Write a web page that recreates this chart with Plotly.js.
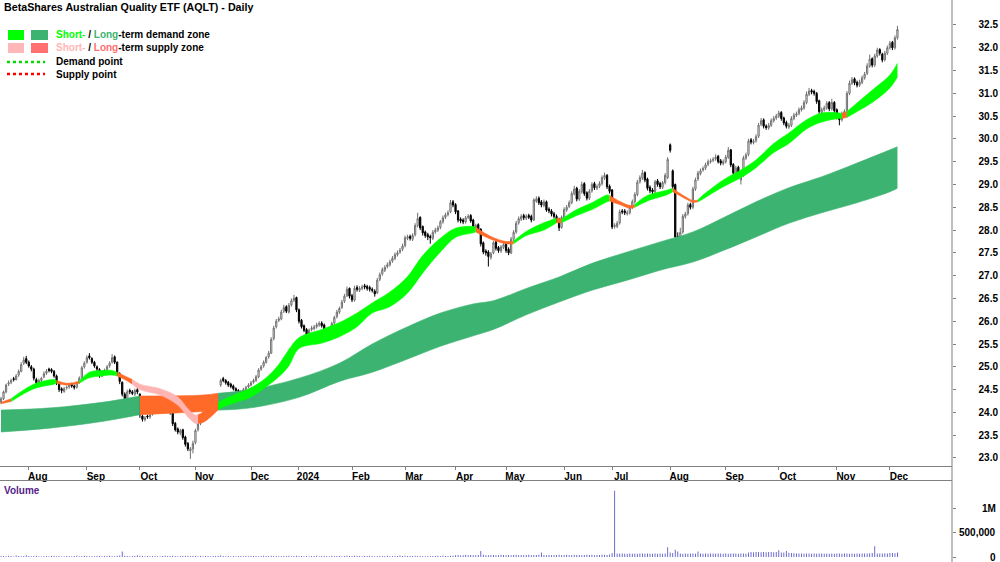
<!DOCTYPE html>
<html><head><meta charset="utf-8">
<script src="https://cdn.plot.ly/plotly-3.0.1.min.js"></script>
<style>html,body{margin:0;padding:0;background:#fff}#chart{width:1000px;height:562px}</style>
</head><body><div id="chart"></div>
<script>
// ---- DATA ----
const startDate = '2023-07-17';
const holidays = ['2023-12-25','2023-12-26','2024-01-01','2024-01-26','2024-03-29','2024-04-01','2024-04-25','2024-06-10'];
const monthLabels = ['Aug','Sep','Oct','Nov','Dec','2024','Feb','Mar','Apr','May','Jun','Jul','Aug','Sep','Oct','Nov','Dec'];
const priceTicks = [23.0,23.5,24.0,24.5,25.0,25.5,26.0,26.5,27.0,27.5,28.0,28.5,29.0,29.5,30.0,30.5,31.0,31.5,32.0,32.5];
const volTicks = [0,500,1000];          // thousands
const volTickText = ['0','500,000','1M'];

const open = [
24.22,24.30,24.45,24.62,24.66,24.74,24.72,24.82,24.90,25.08,
25.18,25.10,25.00,24.95,24.72,24.62,24.70,24.78,24.86,24.95,
24.94,24.90,24.80,24.62,24.52,24.46,24.54,24.56,24.62,24.58,
24.55,24.66,24.76,25.00,25.10,25.24,25.18,25.10,25.00,24.94,
24.80,24.90,24.94,25.02,25.10,25.22,25.10,24.85,24.66,24.40,
24.28,24.48,24.45,24.40,24.50,24.40,23.92,23.84,23.92,23.90,
23.96,24.05,24.15,24.32,24.22,24.16,24.10,24.16,24.00,23.76,
23.64,23.55,23.62,23.46,23.32,23.16,23.20,23.34,23.62,23.76,
23.86,24.05,24.02,24.14,24.20,24.06,24.12,24.60,24.74,24.70,
24.66,24.62,24.58,24.52,24.48,24.42,24.46,24.50,24.56,24.60,
24.66,24.70,24.78,24.95,25.02,25.10,25.22,25.30,25.62,25.88,
26.02,26.05,26.22,26.32,26.20,26.36,26.46,26.52,26.25,26.02,
25.90,25.82,25.62,25.82,25.84,25.88,25.92,25.96,25.92,25.82,
25.72,25.64,25.96,26.10,26.20,26.30,26.44,26.56,26.72,26.56,
26.46,26.74,26.68,26.72,26.78,26.76,26.74,26.70,26.66,26.62,
26.92,27.04,27.12,27.20,27.24,27.32,27.38,27.46,27.52,27.58,
27.66,27.82,27.86,27.80,27.90,28.10,28.28,28.08,27.96,27.90,
27.86,27.82,27.96,28.00,28.06,28.18,28.28,28.34,28.40,28.62,
28.56,28.42,28.24,28.22,28.18,28.28,28.32,28.22,28.06,28.12,
28.02,27.72,27.54,27.52,27.40,27.50,27.74,27.62,27.54,27.62,
27.70,27.58,27.50,27.80,27.96,28.16,28.24,28.32,28.26,28.32,
28.30,28.22,28.64,28.70,28.62,28.54,28.62,28.46,28.42,28.36,
28.30,28.24,28.06,28.28,28.44,28.52,28.60,28.80,28.92,28.68,
28.84,29.02,28.82,28.70,28.86,29.02,28.92,28.96,29.02,29.14,
29.20,28.96,28.88,28.08,28.08,28.16,28.42,28.42,28.36,28.38,
28.50,28.62,28.78,29.06,29.14,29.26,29.12,28.94,28.88,28.84,
29.08,29.02,28.94,29.04,29.15,29.87,29.30,29.00,27.86,27.78,
27.96,28.30,28.36,28.56,28.50,28.90,29.12,29.24,29.32,29.36,
29.44,29.50,29.53,29.56,29.62,29.52,29.46,29.50,29.60,29.76,
29.44,29.24,29.38,29.10,29.20,29.58,29.66,29.98,29.92,29.96,
30.06,30.32,30.42,30.28,30.24,30.30,30.40,30.46,30.50,30.58,
30.46,30.36,30.26,30.30,30.45,30.52,30.56,30.64,30.68,30.80,
30.98,31.06,31.04,31.00,30.84,30.58,30.64,30.68,30.80,30.66,
30.80,30.64,30.50,30.42,30.54,30.62,31.00,31.22,31.32,31.24,
31.18,31.24,31.34,31.44,31.60,31.76,31.62,31.82,31.96,31.86,
31.74,31.88,32.00,32.12,32.00,32.22];

const high = [
24.34,24.48,24.63,24.70,24.74,24.78,24.84,24.94,25.10,25.22,
25.24,25.14,25.04,24.98,24.76,24.74,24.78,24.90,24.95,24.98,
24.97,24.93,24.83,24.65,24.55,24.56,24.59,24.64,24.65,24.61,
24.68,24.79,25.02,25.12,25.25,25.30,25.21,25.13,25.03,24.97,
24.92,24.96,25.04,25.12,25.28,25.25,25.12,24.88,24.68,24.44,
24.50,24.52,24.49,24.52,24.55,24.42,23.95,23.92,23.95,23.99,
24.09,24.19,24.36,24.35,24.25,24.19,24.19,24.18,24.02,23.79,
23.67,23.64,23.64,23.49,23.35,23.24,23.38,23.64,23.78,23.89,
24.04,24.08,24.19,24.22,24.23,24.16,24.40,24.74,24.78,24.73,
24.69,24.65,24.61,24.55,24.51,24.49,24.54,24.58,24.64,24.69,
24.74,24.82,24.97,25.04,25.14,25.24,25.35,25.65,25.90,26.05,
26.10,26.25,26.36,26.35,26.40,26.50,26.58,26.54,26.28,26.05,
25.93,25.85,25.84,25.90,25.92,25.97,26.00,26.00,25.95,25.85,
25.75,25.99,26.12,26.25,26.32,26.47,26.60,26.76,26.74,26.60,
26.78,26.79,26.77,26.80,26.82,26.80,26.78,26.74,26.70,26.95,
27.07,27.18,27.23,27.29,27.35,27.43,27.51,27.55,27.61,27.70,
27.88,27.90,27.90,27.93,28.15,28.38,28.30,28.10,27.99,27.94,
27.90,28.00,28.05,28.10,28.22,28.32,28.38,28.43,28.66,28.66,
28.59,28.44,28.28,28.26,28.31,28.35,28.35,28.25,28.14,28.15,
28.04,27.75,27.58,27.56,27.52,27.76,27.77,27.65,27.67,27.72,
27.73,27.62,27.85,28.00,28.20,28.30,28.35,28.36,28.35,28.36,
28.34,28.70,28.74,28.74,28.66,28.67,28.65,28.50,28.46,28.40,
28.34,28.27,28.32,28.50,28.55,28.65,28.85,28.97,28.95,28.90,
29.06,29.05,28.85,28.90,29.05,29.06,29.00,29.07,29.20,29.26,
29.23,29.00,28.90,28.15,28.20,28.45,28.46,28.46,28.43,28.55,
28.67,28.83,29.10,29.20,29.32,29.29,29.15,28.98,28.92,29.10,
29.12,29.06,29.08,29.25,29.60,29.90,29.33,29.02,27.95,28.05,
28.35,28.40,28.60,28.60,28.95,29.15,29.30,29.35,29.40,29.48,
29.55,29.57,29.60,29.66,29.65,29.56,29.55,29.65,29.82,29.78,
29.47,29.41,29.41,29.25,29.63,29.70,30.00,30.02,30.00,30.10,
30.35,30.46,30.45,30.32,30.35,30.45,30.50,30.55,30.62,30.61,
30.49,30.40,30.35,30.50,30.57,30.60,30.69,30.73,30.85,31.04,
31.12,31.10,31.08,31.03,30.86,30.69,30.73,30.83,30.83,30.88,
30.83,30.67,30.54,30.60,30.65,31.05,31.28,31.36,31.35,31.28,
31.30,31.39,31.47,31.66,31.85,31.79,31.87,32.00,31.99,31.89,
31.93,32.05,32.15,32.15,32.27,32.48];

const low = [
24.18,24.27,24.42,24.58,24.62,24.68,24.70,24.78,24.88,25.04,
25.06,24.98,24.90,24.70,24.60,24.58,24.66,24.75,24.82,24.88,
24.86,24.76,24.60,24.45,24.42,24.43,24.50,24.52,24.54,24.50,
24.52,24.63,24.73,24.96,25.07,25.16,25.06,24.98,24.90,24.76,
24.77,24.86,24.91,24.98,25.07,25.06,24.80,24.62,24.35,24.24,
24.25,24.40,24.38,24.36,24.40,23.88,23.80,23.80,23.86,23.86,
23.93,24.02,24.12,24.16,24.11,24.08,24.06,23.95,23.70,23.58,
23.52,23.50,23.40,23.25,23.15,22.98,23.10,23.30,23.58,23.72,
23.83,23.98,23.98,24.10,24.04,24.02,24.10,24.56,24.66,24.61,
24.56,24.53,24.48,24.44,24.38,24.39,24.43,24.47,24.53,24.57,
24.63,24.67,24.75,24.91,24.98,25.07,25.18,25.28,25.58,25.84,
25.98,26.02,26.18,26.18,26.17,26.32,26.42,26.20,25.95,25.84,
25.76,25.60,25.59,25.78,25.80,25.84,25.88,25.86,25.76,25.65,
25.58,25.62,25.92,26.06,26.16,26.27,26.40,26.53,26.50,26.42,
26.43,26.65,26.64,26.68,26.70,26.67,26.65,26.63,26.54,26.60,
26.88,27.00,27.08,27.16,27.20,27.28,27.34,27.42,27.48,27.54,
27.62,27.78,27.77,27.76,27.86,28.06,28.00,27.88,27.83,27.78,
27.70,27.78,27.92,27.96,28.02,28.14,28.24,28.30,28.37,28.50,
28.35,28.17,28.15,28.13,28.14,28.24,28.16,28.03,28.02,27.95,
27.64,27.47,27.44,27.20,27.35,27.47,27.55,27.50,27.50,27.58,
27.50,27.45,27.47,27.76,27.92,28.12,28.20,28.22,28.22,28.24,
28.17,28.20,28.60,28.55,28.50,28.50,28.40,28.37,28.30,28.25,
28.17,27.98,28.03,28.24,28.40,28.48,28.57,28.76,28.63,28.64,
28.80,28.75,28.65,28.66,28.82,28.88,28.88,28.92,28.98,29.10,
28.90,28.80,28.02,28.03,28.04,28.12,28.35,28.33,28.32,28.34,
28.46,28.58,28.74,29.02,29.10,29.05,28.87,28.81,28.79,28.80,
28.95,28.90,28.90,29.00,29.12,29.70,28.90,27.78,27.65,27.72,
27.92,28.25,28.32,28.45,28.46,28.86,29.08,29.20,29.28,29.32,
29.40,29.46,29.49,29.52,29.46,29.42,29.42,29.46,29.56,29.38,
29.20,29.20,29.15,29.00,29.17,29.54,29.62,29.88,29.88,29.92,
30.02,30.28,30.23,30.20,30.20,30.26,30.36,30.42,30.46,30.40,
30.30,30.23,30.22,30.26,30.41,30.48,30.52,30.60,30.64,30.76,
30.94,30.98,30.95,30.77,30.55,30.54,30.60,30.64,30.61,30.62,
30.57,30.43,30.30,30.38,30.50,30.58,30.96,31.18,31.18,31.13,
31.14,31.20,31.30,31.40,31.56,31.57,31.58,31.78,31.83,31.68,
31.70,31.84,31.96,31.95,31.96,32.18];

const close = [
24.30,24.45,24.60,24.65,24.70,24.72,24.80,24.90,25.05,25.15,
25.10,25.02,24.95,24.75,24.65,24.70,24.75,24.85,24.90,24.92,
24.90,24.80,24.65,24.50,24.48,24.52,24.55,24.60,24.58,24.55,
24.65,24.75,24.98,25.08,25.20,25.20,25.10,25.02,24.95,24.80,
24.88,24.92,25.00,25.08,25.20,25.10,24.85,24.68,24.40,24.30,
24.45,24.45,24.42,24.48,24.45,23.95,23.85,23.88,23.90,23.95,
24.05,24.15,24.30,24.20,24.15,24.12,24.15,24.00,23.75,23.62,
23.57,23.60,23.45,23.30,23.20,23.20,23.32,23.60,23.75,23.85,
24.00,24.02,24.15,24.18,24.08,24.12,24.35,24.70,24.70,24.65,
24.60,24.57,24.52,24.48,24.43,24.45,24.50,24.55,24.60,24.65,
24.70,24.78,24.93,25.00,25.10,25.20,25.30,25.60,25.85,26.00,
26.05,26.20,26.30,26.22,26.35,26.45,26.50,26.25,26.00,25.88,
25.80,25.65,25.80,25.85,25.87,25.92,25.95,25.90,25.80,25.70,
25.65,25.95,26.08,26.20,26.28,26.42,26.55,26.70,26.55,26.47,
26.72,26.70,26.72,26.75,26.75,26.72,26.70,26.68,26.60,26.90,
27.02,27.13,27.18,27.24,27.30,27.38,27.46,27.50,27.56,27.65,
27.83,27.85,27.82,27.88,28.10,28.25,28.05,27.94,27.88,27.85,
27.83,27.95,28.00,28.05,28.18,28.27,28.33,28.38,28.60,28.55,
28.40,28.22,28.20,28.18,28.27,28.30,28.20,28.08,28.10,28.00,
27.70,27.52,27.50,27.42,27.48,27.72,27.60,27.55,27.63,27.68,
27.55,27.50,27.80,27.95,28.15,28.25,28.30,28.27,28.30,28.28,
28.22,28.66,28.68,28.60,28.55,28.62,28.44,28.42,28.35,28.30,
28.22,28.05,28.28,28.45,28.50,28.60,28.80,28.90,28.68,28.85,
29.00,28.80,28.70,28.85,29.00,28.93,28.95,29.02,29.15,29.20,
28.95,28.85,28.07,28.10,28.15,28.40,28.40,28.38,28.38,28.50,
28.62,28.78,29.05,29.15,29.25,29.10,28.92,28.86,28.84,29.06,
29.00,28.95,29.04,29.20,29.55,29.75,28.95,27.85,27.80,27.95,
28.30,28.35,28.55,28.50,28.90,29.10,29.25,29.30,29.35,29.43,
29.50,29.52,29.55,29.60,29.50,29.47,29.50,29.60,29.75,29.43,
29.25,29.36,29.20,29.20,29.58,29.65,29.95,29.93,29.95,30.05,
30.30,30.40,30.28,30.25,30.30,30.40,30.45,30.50,30.57,30.45,
30.35,30.28,30.30,30.45,30.52,30.55,30.64,30.68,30.80,30.98,
31.05,31.03,31.00,30.82,30.60,30.64,30.68,30.78,30.66,30.80,
30.62,30.48,30.42,30.55,30.60,31.00,31.22,31.30,31.23,31.18,
31.25,31.34,31.42,31.60,31.75,31.62,31.82,31.95,31.88,31.73,
31.88,32.00,32.10,32.00,32.22,32.40];

// volume in thousands of units
const volume = [
18,22,15,25,20,12,30,18,16,22, 35,20,14,18,24,16,12,20,22,15,
18,26,14,20,12,16,22,18,14,20, 24,16,20,28,18,14,22,16,20,18,
14,22,18,26,20,16,24,30,110,28, 20,16,18,22,34,26,18,14,20,16,
22,18,14,16,20,24,18,22,26,20, 16,18,22,24,28,20,18,22,16,20,
14,18,22,16,20,18,24,30,20,16, 18,14,20,16,22,18,14,20,16,18,
22,18,16,20,24,18,22,28,20,18, 16,20,22,18,24,16,20,26,22,18,
14,20,16,22,18,24,16,20,18,22, 16,28,20,18,22,16,20,24,18,22,
26,18,20,16,22,18,24,20,16,18, 22,18,20,24,16,20,22,18,30,20,
24,18,22,20,26,18,22,20,16,18, 22,20,18,24,20,26,22,20,28,24,
35,40,32,38,45,36,42,38,34,40, 120,44,38,36,42,40,35,38,44,40,
36,42,38,40,46,38,42,36,40,44, 38,42,40,46,90,42,38,40,36,42,
40,44,38,42,46,40,38,44,42,40, 38,42,46,40,44,38,42,40,48,44,
42,50,80,1350,70,66,72,68,64,70, 66,72,68,74,70,66,72,68,64,70,
68,72,66,70,200,90,80,150,110,72, 68,70,66,74,70,68,110,72,66,70,
68,72,70,66,74,70,68,72,66,70, 74,70,68,72,70,66,90,100,98,104,
100,96,102,98,104,100,96,102,140,94, 90,120,86,80,76,72,70,74,68,72,
70,66,72,68,74,70,68,72,66,70, 68,72,70,66,74,70,68,72,66,70,
68,72,70,74,76,80,220,72,70,74, 76,72,80,84,78,90];

// long-term zone (trading-day index, upper, lower)
const longIdx = [0,20,40,55,80,86,99,118,134,147,161,174,187,195,208,221,234,248,261,274,286,299,312,325,339,352,355];
const longTop = [24.05,24.10,24.22,24.36,24.38,24.42,24.50,24.75,25.08,25.50,25.88,26.18,26.38,26.45,26.72,26.97,27.27,27.52,27.74,27.96,28.27,28.62,28.93,29.17,29.47,29.76,29.83];
const longBot = [23.57,23.66,23.80,23.95,24.02,24.05,24.10,24.33,24.68,24.88,25.17,25.45,25.68,25.82,26.14,26.42,26.68,26.90,27.12,27.30,27.55,27.85,28.15,28.38,28.60,28.84,28.92];
const longSegs = [[0,55,'demand'],[55,86,'supply'],[86,355,'demand']];

// short-term zone
const shortIdx = [0,4,13,21,22,26,31,35,40,44,46,49,52,55,63,70,74,77,78,80,83,86,88,93,99,105,110,114,118,127,134,141,147,154,161,167,174,180,187,188,194,200,203,208,215,220,222,228,234,240,241,245,249,251,256,264,266,269,272,274,276,277,286,293,299,306,312,319,325,332,333,335,339,345,352,355];
const shortTop = [24.22,24.30,24.62,24.72,24.70,24.64,24.68,24.88,24.92,24.92,24.88,24.80,24.72,24.62,24.52,24.34,24.08,23.94,23.95,24.00,24.10,24.22,24.28,24.40,24.54,24.76,25.05,25.38,25.64,25.82,25.97,26.18,26.40,26.64,26.98,27.44,27.82,28.04,28.08,28.06,27.86,27.75,27.76,27.97,28.16,28.26,28.24,28.45,28.60,28.77,28.76,28.63,28.54,28.56,28.76,28.88,28.92,28.80,28.70,28.65,28.66,28.72,29.10,29.32,29.54,29.90,30.13,30.42,30.57,30.57,30.56,30.60,30.79,31.07,31.40,31.66];
const shortBot = [24.19,24.24,24.52,24.62,24.64,24.60,24.64,24.76,24.80,24.82,24.80,24.72,24.62,24.50,24.38,24.16,23.90,23.76,23.76,23.78,23.90,24.06,24.12,24.22,24.34,24.56,24.78,25.02,25.40,25.52,25.66,25.88,26.18,26.32,26.62,27.06,27.52,27.84,27.94,27.96,27.80,27.70,27.70,27.88,28.00,28.16,28.16,28.32,28.45,28.62,28.64,28.56,28.48,28.50,28.64,28.78,28.84,28.75,28.66,28.61,28.62,28.65,28.95,29.15,29.37,29.70,29.90,30.22,30.37,30.45,30.45,30.47,30.60,30.80,31.12,31.36];
const shortSegs = [[0,4,'supply'],[4,22,'demand'],[22,31,'supply'],[31,46,'demand'],[46,52,'supply'],[52,78,'supplyWide'],[78,86,'supply'],[86,188,'demand'],[188,203,'supply'],[203,220,'demand'],[220,222,'supply'],[222,241,'demand'],[241,251,'supply'],[251,266,'demand'],[266,276,'supply'],[276,333,'demand'],[333,335,'supply'],[335,355,'demand']];

// ---- BUILD ----
const dates = [];
(function(){
  const d = new Date(startDate + 'T00:00:00Z');
  while (dates.length < close.length) {
    const s = d.toISOString().slice(0,10);
    const wd = d.getUTCDay();
    if (wd !== 0 && wd !== 6 && holidays.indexOf(s) < 0) dates.push(s);
    d.setUTCDate(d.getUTCDate() + 1);
  }
})();
const monthStarts = [];
for (let i = 1; i < dates.length; i++) {
  if (dates[i].slice(0,7) !== dates[i-1].slice(0,7)) monthStarts.push(dates[i]);
}

const COL = {
  shortDemand:'#00ff00', longDemand:'#3cb371',
  shortSupply:'#ffb6b6', longSupply:'#ff7070',
  zoneOrange:'#ff6a28', zonePink:'#ffb4b4'
};
const FONT = 'Liberation Sans, Arial, sans-serif';
const FS = 10;

function bandTraces(idx, top, bot, segs, colorOf) {
  const out = [];
  segs.forEach(seg => {
    const xs = [], ts = [], bs = [];
    idx.forEach((v, k) => { if (v >= seg[0] && v <= seg[1]) { xs.push(dates[v]); ts.push(top[k]); bs.push(bot[k]); } });
    const c = colorOf(seg[2]);
    out.push({x: xs, y: bs, type:'scatter', mode:'lines', line:{width:0.6, color:c, shape:'spline', smoothing:1}, hoverinfo:'skip', xaxis:'x', yaxis:'y'});
    out.push({x: xs, y: ts, type:'scatter', mode:'lines', fill:'tonexty', fillcolor:c, line:{width:0.6, color:c, shape:'spline', smoothing:1}, hoverinfo:'skip', xaxis:'x', yaxis:'y'});
  });
  return out;
}

const traces = [];
traces.push(...bandTraces(longIdx, longTop, longBot, longSegs, t => t === 'demand' ? COL.longDemand : COL.zoneOrange));
traces.push(...bandTraces(shortIdx, shortTop, shortBot, shortSegs, t => t === 'demand' ? COL.shortDemand : (t === 'supplyWide' ? COL.zonePink : COL.zoneOrange)));

traces.push({
  type:'candlestick', x: dates, open: open, high: high, low: low, close: close,
  xaxis:'x', yaxis:'y', whiskerwidth:0,
  increasing:{line:{color:'#707070', width:1}, fillcolor:'#ffffff'},
  decreasing:{line:{color:'#000000', width:1}, fillcolor:'#000000'},
  hoverinfo:'skip'
});

traces.push({type:'bar', x: dates, y: volume, xaxis:'x2', yaxis:'y2', width:0.35,
  marker:{color:'#5a5ac8', line:{width:0}}, hoverinfo:'skip'});

// invisible helper so the price-label axis is drawn
traces.push({type:'scatter', x:[dates[0]], y:[close[0]], xaxis:'x', yaxis:'y3', mode:'markers', marker:{size:1, opacity:0}, hoverinfo:'skip'});

const W = 1000, H = 562;
const px = v => v / W, py = v => 1 - v / H;
const priceRange = [22.824, 33.048];
const volRange = [-102, 1551];
const xRange = [-0.4, 376.6];
const plotRight = 0.952;
const priceDom = [py(466), 1];
const volDom = [0, py(481)];
const tickFont = {family: FONT, size: FS, color:'#000', weight:'bold'};
const txtFont = {family: FONT, size: FS, color:'#000', weight:'bold'};

// volume axis labels (right-aligned, as in the reference)
const volLabelAnn = volTicks.map((v, k) => ({
  xref:'paper', yref:'y2', x: 0.998, y: v, xanchor:'right', yanchor:'middle', showarrow:false,
  text: volTickText[k], font: tickFont
}));

const layout = {
  width: W, height: H, margin:{l:0, r:0, t:0, b:0},
  paper_bgcolor:'#fff', plot_bgcolor:'#fff', showlegend:false,
  xaxis:{type:'category', categoryorder:'array', categoryarray: dates, range: xRange,
    domain:[0, plotRight], anchor:'y', rangeslider:{visible:false},
    tickvals: monthStarts, ticktext: monthLabels, ticks:'outside', ticklen:3, tickcolor:'#808080',
    showline:true, linecolor:'#808080', linewidth:1, showgrid:false, zeroline:false,
    tickangle:0, tickfont: tickFont, ticklabelshift: 9, ticklabelstandoff: -2, fixedrange:true},
  xaxis2:{type:'category', categoryorder:'array', categoryarray: dates, range: xRange,
    domain:[0, plotRight], anchor:'y2', side:'top', showticklabels:false, ticks:'',
    showline:true, linecolor:'#808080', linewidth:1, showgrid:false, zeroline:false, fixedrange:true},
  yaxis:{domain: priceDom, anchor:'x', side:'right', range: priceRange, tickvals: priceTicks,
    showticklabels:false, ticks:'outside', ticklen:3, tickcolor:'#808080',
    showline:false, showgrid:false, zeroline:false, fixedrange:true},
  yaxis2:{domain: volDom, anchor:'x2', side:'right', range: volRange, tickvals: volTicks,
    showticklabels:false, ticks:'outside', ticklen:3, tickcolor:'#808080',
    showline:false, showgrid:false, zeroline:false, fixedrange:true},
  yaxis3:{overlaying:'y', anchor:'free', position:0.998, side:'left', range: priceRange,
    tickvals: priceTicks, ticktext: priceTicks.map(v => v.toFixed(1)), ticks:'', showline:false,
    showgrid:false, zeroline:false, tickfont: tickFont, fixedrange:true},
  shapes:[
    {type:'line', xref:'paper', yref:'paper', x0:plotRight, x1:plotRight, y0:0, y1:1, line:{color:'#808080', width:1}},
    {type:'rect', xref:'paper', yref:'paper', x0:px(8), x1:px(24), y0:py(40), y1:py(30), fillcolor:COL.shortDemand, line:{width:0}},
    {type:'rect', xref:'paper', yref:'paper', x0:px(31), x1:px(48), y0:py(40), y1:py(30), fillcolor:COL.longDemand, line:{width:0}},
    {type:'rect', xref:'paper', yref:'paper', x0:px(8), x1:px(24), y0:py(53), y1:py(43), fillcolor:COL.shortSupply, line:{width:0}},
    {type:'rect', xref:'paper', yref:'paper', x0:px(31), x1:px(48), y0:py(53), y1:py(43), fillcolor:COL.longSupply, line:{width:0}},
    {type:'line', xref:'paper', yref:'paper', x0:px(7), x1:px(45), y0:py(62), y1:py(62), line:{color:'#00dd00', width:2.5, dash:'dot'}},
    {type:'line', xref:'paper', yref:'paper', x0:px(7), x1:px(45), y0:py(74), y1:py(74), line:{color:'#ff0000', width:2.5, dash:'dot'}}
  ],
  annotations:[
    {xref:'paper', yref:'paper', x:px(2), y:py(7), xanchor:'left', yanchor:'middle', showarrow:false,
      text:'BetaShares Australian Quality ETF (AQLT) - Daily', font:{family:FONT, size:10.7, color:'#000', weight:'bold'}},
    {xref:'paper', yref:'paper', x:px(54), y:py(35), xanchor:'left', yanchor:'middle', showarrow:false,
      text:'<span style="color:' + COL.shortDemand + '">Short-</span> / <span style="color:' + COL.longDemand + '">Long</span>-term demand zone', font: txtFont},
    {xref:'paper', yref:'paper', x:px(54), y:py(48), xanchor:'left', yanchor:'middle', showarrow:false,
      text:'<span style="color:' + COL.shortSupply + '">Short-</span> / <span style="color:' + COL.longSupply + '">Long</span>-term supply zone', font: txtFont},
    {xref:'paper', yref:'paper', x:px(54), y:py(61), xanchor:'left', yanchor:'middle', showarrow:false,
      text:'Demand point', font: txtFont},
    {xref:'paper', yref:'paper', x:px(54), y:py(74), xanchor:'left', yanchor:'middle', showarrow:false,
      text:'Supply point', font: txtFont},
    {xref:'paper', yref:'paper', x:px(2), y:py(490), xanchor:'left', yanchor:'middle', showarrow:false,
      text:'Volume', font:{family:FONT, size:FS, color:'#552288', weight:'bold'}}
  ].concat(volLabelAnn)
};

Plotly.newPlot('chart', traces, layout, {displayModeBar:false, staticPlot:true});
</script>
</body></html>
